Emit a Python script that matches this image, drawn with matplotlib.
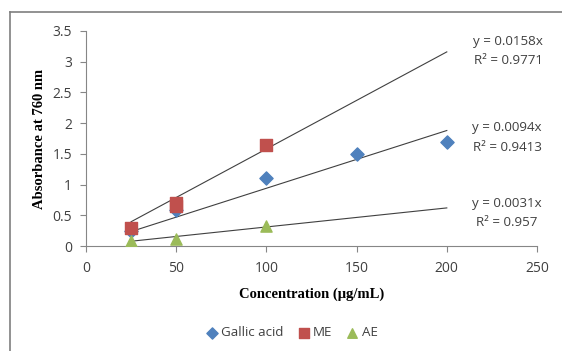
import numpy as np
import matplotlib
matplotlib.use("Agg")
from matplotlib import pyplot as plt

# data
ga_x = [25, 50, 100, 150, 200]
ga_y = [0.25, 0.58, 1.1, 1.5, 1.7]
me_x = [25, 50, 50, 100]
me_y = [0.3, 0.65, 0.7, 1.65]
ae_x = [25, 50, 100]
ae_y = [0.08, 0.12, 0.32]

slopes = [0.0158, 0.0094, 0.0031]
r2_labels = ["0.9771", "0.9413", "0.957"]
fit_range = [25, 200]

BLUE = "#4F81BD"
RED = "#C0504D"
GREEN = "#9BBB59"
AXC = "#868686"
TXT = "#404040"

W, H = 562, 351
fig = plt.figure(figsize=(W / 100, H / 100), dpi=100)

def px(x, y):
    return x / W, 1 - y / H

# outer chart border (only top and left visible in the crop)
fig.add_artist(plt.Line2D([10 / W, 1], [1 - 12 / H, 1 - 12 / H], color="#7f7f7f", lw=1.2))
fig.add_artist(plt.Line2D([10 / W, 10 / W], [0, 1 - 12 / H], color="#7f7f7f", lw=1.2))

l, b = px(86, 246)
r, t = px(537, 31)
ax = fig.add_axes([l, b, r - l, t - b])

xs = np.array(fit_range)
for s in slopes:
    ax.plot(xs, s * xs, color="#404040", lw=0.8, zorder=2)

ax.scatter(ga_x, ga_y, marker="D", s=45, color=BLUE, zorder=3, label="Gallic acid")
ax.scatter(me_x, me_y, marker="s", s=70, color=RED, zorder=4, label="ME")
ax.scatter(ae_x, ae_y, marker="^", s=65, color=GREEN, zorder=5, label="AE")

ax.set_xlim(0, 250)
ax.set_ylim(0, 3.5)
ax.set_xticks(np.arange(0, 251, 50))
ax.set_yticks(np.arange(0, 3.51, 0.5))
ax.set_yticklabels(["0", "0.5", "1", "1.5", "2", "2.5", "3", "3.5"])
for sp in ["top", "right"]:
    ax.spines[sp].set_visible(False)
for sp in ["left", "bottom"]:
    ax.spines[sp].set_color(AXC)
    ax.spines[sp].set_linewidth(0.8)
ax.tick_params(direction="out", length=4, width=0.8, color=AXC,
               labelsize=10, labelcolor=TXT)
ax.tick_params(axis="x", pad=7)
ax.tick_params(axis="y", pad=6)
for lab in ax.get_xticklabels() + ax.get_yticklabels():
    lab.set_fontfamily("Open Sans")

ax.set_xlabel("Concentration (\u03bcg/mL)", fontfamily="Liberation Serif",
              fontweight="bold", fontsize=10.5, labelpad=8)
ax.set_ylabel("Absorbance at 760 nm", fontfamily="Liberation Serif",
              fontweight="bold", fontsize=10.5, labelpad=5)

eq_pos = [(508, 42, 61), (507, 128, 147), (507, 203, 222)]
for s, r2, (cx, y1, y2) in zip(slopes, r2_labels, eq_pos):
    fig.text(*px(cx, y1), f"y = {s}x", ha="center", va="center",
             fontsize=9.6, color=TXT, fontfamily="Open Sans")
    fig.text(*px(cx, y2), f"R\u00b2 = {r2}", ha="center", va="center",
             fontsize=9.6, color=TXT, fontfamily="Open Sans")

leg = fig.legend(loc="center", bbox_to_anchor=px(292, 333), ncol=3, frameon=False,
                 handlelength=0.8, handletextpad=0.3, columnspacing=1.1,
                 markerscale=0.85, prop={"family": "Open Sans", "size": 9.6})
for txt in leg.get_texts():
    txt.set_color(TXT)

fig.savefig("out.png", dpi=100)
